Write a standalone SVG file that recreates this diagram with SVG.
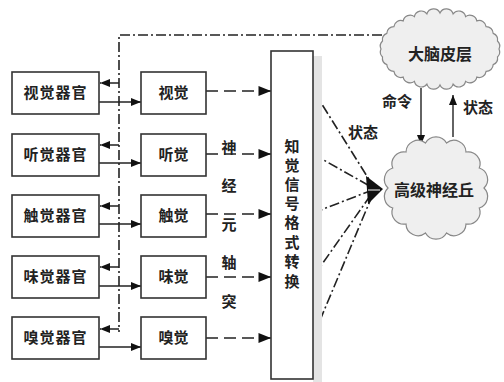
<svg xmlns="http://www.w3.org/2000/svg" width="504" height="382" viewBox="0 0 504 382">
<style>
.box{fill:#fff;stroke:#333;stroke-width:1.6}
.t{font-family:"Noto Sans CJK SC","Noto Sans CJK JP",sans-serif;font-size:15px;fill:#222;text-anchor:middle;font-weight:bold}
.solid{stroke:#222;stroke-width:1.4;fill:none}
.dash{stroke:#222;stroke-width:1.4;fill:none;stroke-dasharray:12 6}
.dd{stroke:#222;stroke-width:1.6;fill:none;stroke-dasharray:10 3 2 3}
.cloud{fill:#efefef;stroke:#888;stroke-width:1.2}
</style>
<defs>
<marker id="ah" viewBox="0 0 10 8" refX="10" refY="4" markerWidth="10" markerHeight="8" markerUnits="userSpaceOnUse" orient="auto">
<path d="M0,0 L10,4 L0,8 Z" fill="#111"/>
</marker>
<marker id="ahb" viewBox="0 0 10 8" refX="10" refY="4" markerWidth="14" markerHeight="10" markerUnits="userSpaceOnUse" orient="auto">
<path d="M0,0 L10,4 L0,8 Z" fill="#111"/>
</marker>
</defs>

<g id="connectors">
<path class="dd" d="M382,35 L119,35 L119,332"/>
<line class="dash" x1="119" y1="83" x2="100" y2="83" marker-end="url(#ah)"/>
<line class="dash" x1="119" y1="145" x2="100" y2="145" marker-end="url(#ah)"/>
<line class="dash" x1="119" y1="206" x2="100" y2="206" marker-end="url(#ah)"/>
<line class="dash" x1="119" y1="267" x2="100" y2="267" marker-end="url(#ah)"/>
<line class="dash" x1="119" y1="329" x2="100" y2="329" marker-end="url(#ah)"/>
<line class="solid" x1="99" y1="102" x2="141" y2="102" marker-end="url(#ah)"/>
<line class="solid" x1="99" y1="163" x2="141" y2="163" marker-end="url(#ah)"/>
<line class="solid" x1="99" y1="224" x2="141" y2="224" marker-end="url(#ah)"/>
<line class="solid" x1="99" y1="286" x2="141" y2="286" marker-end="url(#ah)"/>
<line class="solid" x1="99" y1="347" x2="141" y2="347" marker-end="url(#ah)"/>
<line class="dash" x1="206" y1="91" x2="271" y2="91" marker-end="url(#ahb)"/>
<line class="dash" x1="206" y1="154" x2="271" y2="154" marker-end="url(#ahb)"/>
<line class="dash" x1="206" y1="214" x2="271" y2="214" marker-end="url(#ahb)"/>
<line class="dash" x1="206" y1="277" x2="271" y2="277" marker-end="url(#ahb)"/>
<line class="dash" x1="206" y1="338" x2="271" y2="338" marker-end="url(#ahb)"/>
<line class="dd" x1="313" y1="90" x2="375" y2="189"/>
<line class="dd" x1="313" y1="154" x2="375" y2="189"/>
<line class="dd" x1="313" y1="213" x2="375" y2="189"/>
<line class="dd" x1="313" y1="277" x2="375" y2="189"/>
<line class="dd" x1="313" y1="337" x2="375" y2="189"/>
<path d="M383,189 L366,176 L368,204 Z" fill="#111"/>
<line x1="368" y1="190" x2="380" y2="190" stroke="#fff" stroke-width="1"/>
<line class="solid" x1="421" y1="88" x2="421" y2="145" marker-end="url(#ah)"/>
<line class="solid" x1="453" y1="137" x2="453" y2="95" marker-end="url(#ah)"/>
<text class="t" x="397" y="107">命令</text>
<text class="t" x="478" y="113">状态</text>
<text class="t" x="363" y="138">状态</text>
<text class="t" x="229" y="153">神</text>
<text class="t" x="229" y="191">经</text>
<text class="t" x="229" y="230">元</text>
<text class="t" x="229" y="268">轴</text>
<text class="t" x="229" y="307">突</text>
</g>

<g id="organ-vision"><rect class="box" x="12" y="72" width="87" height="42"/><text class="t" x="55.5" y="98" letter-spacing="1">视觉器官</text></g>
<g id="organ-hearing"><rect class="box" x="12" y="134" width="87" height="42"/><text class="t" x="55.5" y="160" letter-spacing="1">听觉器官</text></g>
<g id="organ-touch"><rect class="box" x="12" y="195" width="87" height="42"/><text class="t" x="55.5" y="221" letter-spacing="1">触觉器官</text></g>
<g id="organ-taste"><rect class="box" x="12" y="256" width="87" height="42"/><text class="t" x="55.5" y="282" letter-spacing="1">味觉器官</text></g>
<g id="organ-smell"><rect class="box" x="12" y="317" width="87" height="42"/><text class="t" x="55.5" y="343" letter-spacing="1">嗅觉器官</text></g>

<g id="sense-vision"><rect class="box" x="141" y="72" width="65" height="42"/><text class="t" x="173.5" y="98">视觉</text></g>
<g id="sense-hearing"><rect class="box" x="141" y="134" width="65" height="42"/><text class="t" x="173.5" y="160">听觉</text></g>
<g id="sense-touch"><rect class="box" x="141" y="195" width="65" height="42"/><text class="t" x="173.5" y="221">触觉</text></g>
<g id="sense-taste"><rect class="box" x="141" y="256" width="65" height="42"/><text class="t" x="173.5" y="282">味觉</text></g>
<g id="sense-smell"><rect class="box" x="141" y="317" width="65" height="42"/><text class="t" x="173.5" y="343">嗅觉</text></g>

<g id="conversion">
<rect x="313" y="56" width="9" height="326" fill="#e4e4e4"/>
<rect class="box" x="271" y="51" width="42" height="328"/>
<text class="t" x="292" y="152">知</text>
<text class="t" x="292" y="171">觉</text>
<text class="t" x="292" y="190">信</text>
<text class="t" x="292" y="209">号</text>
<text class="t" x="292" y="228">格</text>
<text class="t" x="292" y="248">式</text>
<text class="t" x="292" y="267">转</text>
<text class="t" x="292" y="287">换</text>
</g>

<g id="cortex">
<path class="cloud" d="M499,49 A7 7 0 0 1 497.5,57 A7 7 0 0 1 493.2,64.6 A7 7 0 0 1 486.1,71.4 A7 7 0 0 1 476.8,77.1 A7 7 0 0 1 465.6,81.4 A7 7 0 0 1 453.1,84.1 A7 7 0 0 1 440,85 A7 7 0 0 1 426.9,84.1 A7 7 0 0 1 414.4,81.4 A7 7 0 0 1 403.2,77.1 A7 7 0 0 1 393.9,71.4 A7 7 0 0 1 386.8,64.6 A7 7 0 0 1 382.5,57 A7 7 0 0 1 381,49 A7 7 0 0 1 382.5,41 A7 7 0 0 1 386.8,33.4 A7 7 0 0 1 393.9,26.6 A7 7 0 0 1 403.2,20.9 A7 7 0 0 1 414.4,16.6 A7 7 0 0 1 426.9,13.9 A7 7 0 0 1 440,13 A7 7 0 0 1 453.1,13.9 A7 7 0 0 1 465.6,16.6 A7 7 0 0 1 476.8,20.9 A7 7 0 0 1 486.1,26.6 A7 7 0 0 1 493.2,33.4 A7 7 0 0 1 497.5,41 A7 7 0 0 1 499,49 Z"/>
<text class="t" x="440" y="60" style="font-size:16px">大脑皮层</text>
</g>

<g id="thalamus">
<path class="cloud" d="M484,188 A12 12 0 0 1 479.3,208 A12 12 0 0 1 466,224 A12 12 0 0 1 446.5,233 A12 12 0 0 1 425.5,233 A12 12 0 0 1 406,224 A12 12 0 0 1 392.7,208 A12 12 0 0 1 388,188 A12 12 0 0 1 392.7,168 A12 12 0 0 1 406,152 A12 12 0 0 1 425.5,143 A12 12 0 0 1 446.5,143 A12 12 0 0 1 466,152 A12 12 0 0 1 479.3,168 A12 12 0 0 1 484,188 Z"/>
<text class="t" x="434" y="196" style="font-size:16px">高级神经丘</text>
</g>
</svg>
